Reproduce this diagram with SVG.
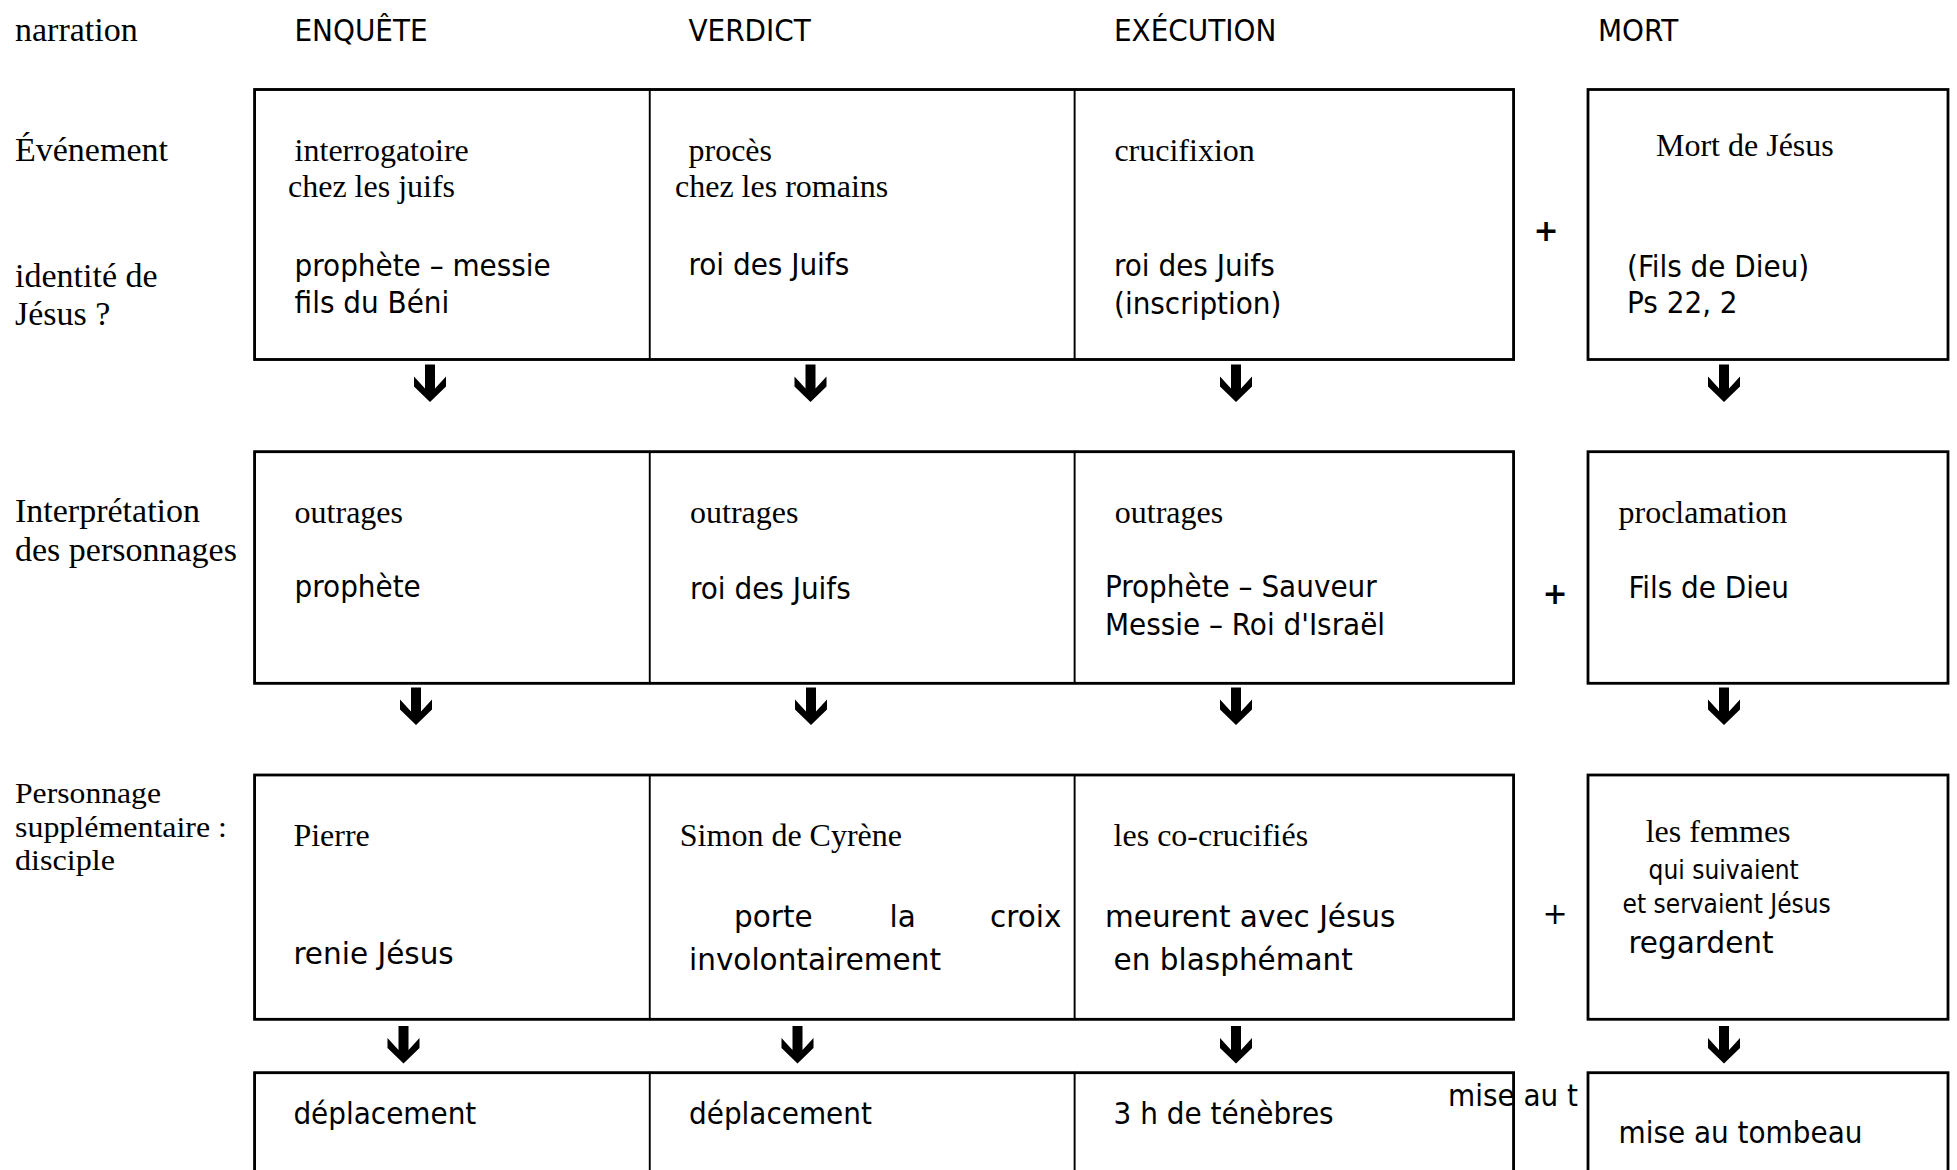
<svg xmlns="http://www.w3.org/2000/svg" xmlns:xlink="http://www.w3.org/1999/xlink" width="1957" height="1170" viewBox="0 0 1957 1170">
<style>
.bg{fill:#fff}
.cell{fill:#fff;stroke:#000;stroke-width:1.8}
.frame{fill:none;stroke:#000;stroke-width:2.8}
.serif{font-family:"Liberation Serif","Times New Roman",serif;font-size:32px;fill:#000}
.lab{font-family:"Liberation Serif","Times New Roman",serif;font-size:34px;fill:#000}
.lab2{font-family:"Liberation Serif","Times New Roman",serif;font-size:30px;fill:#000}
.sans{font-family:"DejaVu Sans Condensed","DejaVu Sans",sans-serif;font-stretch:condensed;font-size:31px;fill:#000}
.small{font-family:"DejaVu Sans Condensed","DejaVu Sans",sans-serif;font-stretch:condensed;font-size:26px;fill:#000}
.comic{font-family:"DejaVu Sans",sans-serif;font-size:29.5px;fill:#000}
.plusb{font-family:"DejaVu Sans",sans-serif;font-weight:bold;font-size:30px;fill:#000;text-anchor:middle}
.plus{font-family:"DejaVu Sans",sans-serif;font-size:30px;fill:#000;text-anchor:middle}
.arrow{fill:#000}
</style>
<defs>
<path id="arr" d="M-5 0 H5 V24 L16 12 V22 L0 37.5 L-16 22 V12 L-5 24 Z"/>
</defs>
<rect class="bg" x="0" y="0" width="1957" height="1170"/>

<g id="labels">
<text class="lab" x="15" y="41">narration</text>
<text class="lab" x="15" y="161">Événement</text>
<text class="lab" x="15" y="287">identité de</text>
<text class="lab" x="15" y="325">Jésus ?</text>
<text class="lab" x="15" y="522">Interprétation</text>
<text class="lab" x="15" y="561">des personnages</text>
<text class="lab2" x="15" y="803" textLength="146" lengthAdjust="spacingAndGlyphs">Personnage</text>
<text class="lab2" x="15" y="836.5" textLength="212" lengthAdjust="spacingAndGlyphs">supplémentaire :</text>
<text class="lab2" x="15" y="870" textLength="100" lengthAdjust="spacingAndGlyphs">disciple</text>
</g>

<g id="headers">
<text class="sans" x="294.5" y="41">ENQUÊTE</text>
<text class="sans" x="688.5" y="41">VERDICT</text>
<text class="sans" x="1114" y="41">EXÉCUTION</text>
<text class="sans" x="1598" y="41">MORT</text>
</g>

<!-- Row 1 -->
<g id="r1-enquete">
<rect class="cell" x="254.6" y="89.5" width="395.2" height="270"/>
<text class="serif" x="294.6" y="161">interrogatoire</text>
<text class="serif" x="288" y="197">chez les juifs</text>
<text class="sans" x="294.6" y="276">prophète – messie</text>
<text class="sans" x="294.6" y="313">fils du Béni</text>
</g>
<g id="r1-verdict">
<rect class="cell" x="649.8" y="89.5" width="424.9" height="270"/>
<text class="serif" x="688.5" y="161">procès</text>
<text class="serif" x="675" y="197">chez les romains</text>
<text class="sans" x="688.5" y="275">roi des Juifs</text>
</g>
<g id="r1-execution">
<rect class="cell" x="1074.7" y="89.5" width="438.9" height="270"/>
<text class="serif" x="1114.4" y="161">crucifixion</text>
<text class="sans" x="1114" y="276">roi des Juifs</text>
<text class="sans" x="1114" y="314">(inscription)</text>
</g>
<rect class="frame" x="254.6" y="89.5" width="1259" height="270"/>
<g id="r1-mort">
<rect class="frame" x="1588" y="89.5" width="360" height="270"/>
<text class="serif" x="1656" y="156">Mort de Jésus</text>
<text class="sans" x="1627" y="277">(Fils de Dieu)</text>
<text class="sans" x="1627" y="313">Ps 22, 2</text>
</g>
<text id="plus1" class="plusb" x="1546" y="241">+</text>

<!-- Row 2 -->
<g id="r2-enquete">
<rect class="cell" x="254.6" y="451.7" width="395.2" height="231.6"/>
<text class="serif" x="294.6" y="523">outrages</text>
<text class="sans" x="294.6" y="597">prophète</text>
</g>
<g id="r2-verdict">
<rect class="cell" x="649.8" y="451.7" width="424.9" height="231.6"/>
<text class="serif" x="690" y="523">outrages</text>
<text class="sans" x="690" y="599">roi des Juifs</text>
</g>
<g id="r2-execution">
<rect class="cell" x="1074.7" y="451.7" width="438.9" height="231.6"/>
<text class="serif" x="1114.8" y="523">outrages</text>
<text class="sans" x="1105" y="597">Prophète – Sauveur</text>
<text class="sans" x="1105" y="635">Messie – Roi d'Israël</text>
</g>
<rect class="frame" x="254.6" y="451.7" width="1259" height="231.6"/>
<g id="r2-mort">
<rect class="frame" x="1588" y="451.7" width="360" height="231.6"/>
<text class="serif" x="1618.5" y="523">proclamation</text>
<text class="sans" x="1628.4" y="598">Fils de Dieu</text>
</g>
<text id="plus2" class="plusb" x="1555" y="604">+</text>

<!-- Row 3 -->
<g id="r3-enquete">
<rect class="cell" x="254.6" y="775" width="395.2" height="244.3"/>
<text class="serif" x="293.4" y="846">Pierre</text>
<text class="comic" x="293.4" y="964">renie Jésus</text>
</g>
<g id="r3-verdict">
<rect class="cell" x="649.8" y="775" width="424.9" height="244.3"/>
<text class="serif" x="679.8" y="846">Simon de Cyrène</text>
<text class="comic" y="927"><tspan x="734">porte</tspan><tspan x="889.6">la</tspan><tspan x="990">croix</tspan></text>
<text class="comic" x="689" y="970">involontairement</text>
</g>
<g id="r3-execution">
<rect class="cell" x="1074.7" y="775" width="438.9" height="244.3"/>
<text class="serif" x="1113.6" y="846">les co-crucifiés</text>
<text class="comic" x="1105" y="927">meurent avec Jésus</text>
<text class="comic" x="1113.6" y="970">en blasphémant</text>
</g>
<rect class="frame" x="254.6" y="775" width="1259" height="244.3"/>
<g id="r3-mort">
<rect class="frame" x="1588" y="775" width="360" height="244.3"/>
<text class="serif" x="1645.7" y="842">les femmes</text>
<text class="small" x="1648.6" y="879">qui suivaient</text>
<text class="small" x="1622.6" y="913">et servaient Jésus</text>
<text class="comic" x="1628.4" y="953">regardent</text>
</g>
<text id="plus3" class="plus" x="1555" y="924">+</text>

<!-- Row 4 -->
<g id="r4-enquete">
<rect class="cell" x="254.6" y="1072.7" width="395.2" height="140"/>
<text class="sans" x="293.4" y="1124">déplacement</text>
</g>
<g id="r4-verdict">
<rect class="cell" x="649.8" y="1072.7" width="424.9" height="140"/>
<text class="sans" x="689" y="1124">déplacement</text>
</g>
<g id="r4-execution">
<rect class="cell" x="1074.7" y="1072.7" width="438.9" height="140"/>
<text class="sans" x="1113.6" y="1124">3 h de ténèbres</text>
</g>
<rect class="frame" x="254.6" y="1072.7" width="1259" height="140"/>
<g id="r4-mort">
<rect class="frame" x="1588" y="1072.7" width="360" height="140"/>
<text class="sans" x="1618.5" y="1143">mise au tombeau</text>
</g>
<text id="overflow" class="sans" x="1448" y="1106">mise au t</text>

<g id="connectors" class="arrow">
<use xlink:href="#arr" x="430" y="364.5"/>
<use xlink:href="#arr" x="810.5" y="364.5"/>
<use xlink:href="#arr" x="1236" y="364.5"/>
<use xlink:href="#arr" x="1724" y="364.5"/>
<use xlink:href="#arr" x="416" y="687.5"/>
<use xlink:href="#arr" x="811" y="687.5"/>
<use xlink:href="#arr" x="1236" y="687.5"/>
<use xlink:href="#arr" x="1724" y="687.5"/>
<use xlink:href="#arr" x="403.5" y="1026"/>
<use xlink:href="#arr" x="797.5" y="1026"/>
<use xlink:href="#arr" x="1236" y="1026"/>
<use xlink:href="#arr" x="1724" y="1026"/>
</g>
</svg>
